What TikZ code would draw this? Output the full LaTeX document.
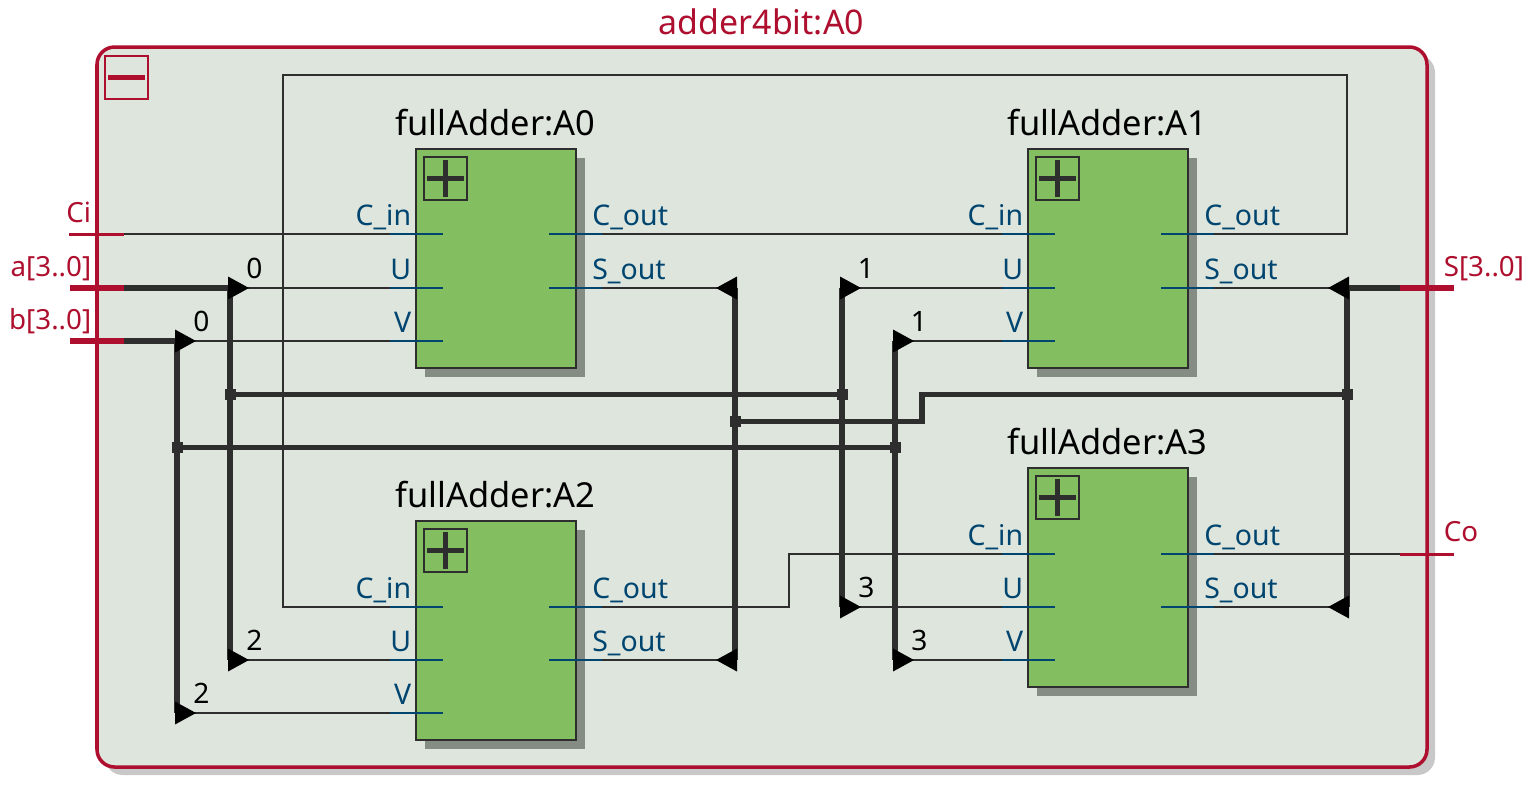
\documentclass[tikz,border=0pt]{standalone}
\usepackage{fontspec}
\setmainfont{Noto Sans}
\usepackage{xcolor}
\definecolor{grpred}{HTML}{AE0F2E}
\definecolor{grpfill}{HTML}{DDE5DD}
\definecolor{grpshadow}{HTML}{C8C8C8}
\definecolor{blkgreen}{HTML}{83BF60}
\definecolor{blkshadow}{HTML}{848C84}
\definecolor{wirecol}{HTML}{2E2E2E}
\definecolor{portblue}{HTML}{00456F}
\tikzset{
  wire/.style={wirecol,line width=1.25pt},
  bus/.style={wirecol,line width=2.9pt},
  redwire/.style={grpred,line width=1.7pt},
  redbus/.style={grpred,line width=3.4pt},
  stub/.style={portblue,line width=1.25pt},
  block/.style={draw=wirecol,fill=blkgreen,line width=1.4pt,minimum width=3.2cm,minimum height=4.38cm,anchor=north west,outer sep=0pt,inner sep=0pt},
  togglebox/.style={minimum width=.86cm,minimum height=.86cm,anchor=north west,outer sep=0pt,inner sep=0pt,line width=1.15pt},
  junction/.style={fill=wirecol,minimum size=.22cm,inner sep=0pt,outer sep=0pt},
  grouptext/.style={grpred,inner sep=0pt,font=\fontsize{19.3}{22}\selectfont},
  blocktext/.style={black,inner sep=0pt,font=\fontsize{19.6}{22}\selectfont,anchor=base},
  porttext/.style={portblue,inner sep=0pt,font=\fontsize{16.2}{19}\selectfont},
  pintext/.style={grpred,inner sep=0pt,font=\fontsize{15.8}{19}\selectfont},
  bittext/.style={black,inner sep=0pt,font=\fontsize{16}{19}\selectfont,anchor=base},
}
\begin{document}
\begin{tikzpicture}[x=.02cm,y=-.02cm]
\useasboundingbox (0,0) rectangle (1532,789);
% enclosing group
\fill[grpshadow,rounded corners=10pt] (105,55) rectangle (1435,775);
\draw[grpred,fill=grpfill,line width=2pt,rounded corners=10pt] (97,47) rectangle (1427,767);
\node[grouptext,anchor=base] (grptitle) at (761.5,34) {adder4bit:A0};
\node[togglebox,draw=grpred] (grptoggle) at (105,56) {};
\draw[grpred,line width=2.9pt] ([xshift=-18.5*.02cm]grptoggle.center) -- ([xshift=18.5*.02cm]grptoggle.center);
% the four blocks, ports are coordinates A0cin, A0u, ...
\foreach \n/\x/\y/\t/\pc/\pu/\pv in {A0/416/149/135/234/288/341,A1/1028/149/135/234/288/341,A2/416/521/507/607/660/713,A3/1028/468/454/554/607/660}{
  \fill[blkshadow] ({\x+9},{\y+9}) rectangle ({\x+169},{\y+228});
  \node[block] (\n) at (\x,\y) {};
  \node[blocktext] (\n title) at ({\x+79.5},\t) {fullAdder:\n};
  \node[togglebox,draw=wirecol] (\n toggle) at ({\x+8},{\y+8}) {};
  \draw[wirecol,line width=2.9pt] ([xshift=-18.5*.02cm]\n toggle.center) -- ([xshift=18.5*.02cm]\n toggle.center);
  \draw[wirecol,line width=2.9pt] ([yshift=-18.5*.02cm]\n toggle.center) -- ([yshift=18.5*.02cm]\n toggle.center);
  \foreach \p/\d/\s in {cin/\pc/C\_in,u/\pu/U,v/\pv/V}{
    \coordinate (\n\p) at ({\x-26},\d);
    \draw[stub] (\n\p) -- ++(53,0);
    \node[porttext,anchor=base east] (\n\p text) at ({\x-4.5},{\d-9}) {\s};
  }
  \foreach \p/\d/\s in {cout/\pc/C\_out,sout/\pu/S\_out}{
    \coordinate (\n\p) at ({\x+186},\d);
    \draw[stub] (\n\p) -- ++(-53,0);
    \node[porttext,anchor=base west] (\n\p text) at ({\x+176},{\d-9}) {\s};
  }
}
% pins
\coordinate (ciL) at (69,234);   \coordinate (ciR) at (124,234);
\coordinate (aL) at (70,288);    \coordinate (aR) at (124,288);
\coordinate (bL) at (70,341);    \coordinate (bR) at (124,341);
\coordinate (sL) at (1400,288);  \coordinate (sR) at (1454,288);
\coordinate (coL) at (1400,554); \coordinate (coR) at (1454,554);
% bus rippers
\coordinate (ra0) at (230,288);  \coordinate (ra2) at (230,660);
\coordinate (rb0) at (177,341);  \coordinate (rb2) at (177,713);
\coordinate (ra1) at (842,288);  \coordinate (ra3) at (842,607);
\coordinate (rb1) at (895,341);  \coordinate (rb3) at (895,660);
\coordinate (rs0) at (735,288);  \coordinate (rs2) at (735,660);
\coordinate (rs1) at (1347,288); \coordinate (rs3) at (1347,607);
\node[junction] (ja0) at (230,394.5) {};
\node[junction] (ja1) at (842,394.5) {};
\node[junction] (jb0) at (177,447.5) {};
\node[junction] (jb1) at (895,447.5) {};
\node[junction] (js0) at (735,421.5) {};
\node[junction] (js1) at (1347,394.5) {};
% single wires
\draw[wire] (ciR) -- (A0cin);
\draw[wire] (A0cout) -- (A1cin);
\draw[wire] (A1cout) -- (1347,234) -- (1347,75) -- (283,75) -- (283,607) -- (A2cin);
\draw[wire] (A2cout) -- (789,607) -- (789,554) -- (A3cin);
\draw[wire] (A3cout) -- (coL);
\draw[wire] (ra0) -- (A0u);
\draw[wire] (rb0) -- (A0v);
\draw[wire] (ra2) -- (A2u);
\draw[wire] (rb2) -- (A2v);
\draw[wire] (ra1) -- (A1u);
\draw[wire] (rb1) -- (A1v);
\draw[wire] (ra3) -- (A3u);
\draw[wire] (rb3) -- (A3v);
\draw[wire] (A0sout) -- (rs0);
\draw[wire] (A2sout) -- (rs2);
\draw[wire] (A1sout) -- (rs1);
\draw[wire] (A3sout) -- (rs3);
% busses
\draw[bus] (aR) -- (ra0) -- (ra2);
\draw[bus] (bR) -- (rb0) -- (rb2);
\draw[bus] (ra1) -- (ra3);
\draw[bus] (rb1) -- (rb3);
\draw[bus] (rs0) -- (rs2);
\draw[bus] (sL) -- (rs1) -- (rs3);
\draw[bus] (ja0) -- (ja1);
\draw[bus] (jb0) -- (jb1);
\draw[bus] (js0) -- (922,421.5) -- (922,394.5) -- (js1);
% ripper arrows
\foreach \c in {ra0,ra1,ra2,ra3,rb0,rb1,rb2,rb3}
  \fill[black] (\c) ++(-2,-11.5) -- ++(21,11.5) -- ++(-21,11.5) -- cycle;
\foreach \c in {rs0,rs1,rs2,rs3}
  \fill[black] (\c) ++(2,-11.5) -- ++(-21,11.5) -- ++(21,11.5) -- cycle;
% pins on top
\draw[redwire] (ciL) -- (ciR);
\draw[redwire] (coL) -- (coR);
\draw[redbus] (aL) -- (aR);
\draw[redbus] (bL) -- (bR);
\draw[redbus] (sL) -- (sR);
\node[pintext,anchor=base east] (citext) at (91.5,222.5) {Ci};
\node[pintext,anchor=base east] (atext) at (91.5,276) {a[3..0]};
\node[pintext,anchor=base east] (btext) at (91.5,329) {b[3..0]};
\node[pintext,anchor=base west] (stext) at (1443.5,276) {S[3..0]};
\node[pintext,anchor=base west] (cotext) at (1443.5,541.5) {Co};
% bit numbers
\foreach \c/\x/\y/\b in {ba0/254.5/278/0,bb0/201.5/331/0,ba2/254.5/650/2,bb2/201.5/703/2,ba1/866/278/1,bb1/919/331/1,ba3/866.5/597/3,bb3/919.5/650/3}
  \node[bittext] (\c) at (\x,\y) {\b};
\end{tikzpicture}
\end{document}
